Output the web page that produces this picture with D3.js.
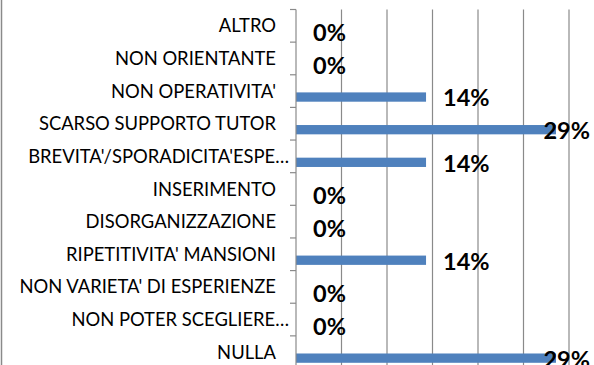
<!DOCTYPE html>
<html>
<head>
<meta charset="utf-8">
<script src="https://cdn.jsdelivr.net/npm/d3@7"></script>
<style>
  html, body { margin: 0; padding: 0; background: #fff; }
  svg { display: block; }
</style>
</head>
<body>
<svg id="chart" width="594" height="365"></svg>
<script>
// Categories, top to bottom, and their shares of responses
const categories = [
  "ALTRO",
  "NON ORIENTANTE",
  "NON OPERATIVITA'",
  "SCARSO SUPPORTO TUTOR",
  "BREVITA'/SPORADICITA'ESPE…",
  "INSERIMENTO",
  "DISORGANIZZAZIONE",
  "RIPETITIVITA' MANSIONI",
  "NON VARIETA' DI ESPERIENZE",
  "NON POTER SCEGLIERE…",
  "NULLA"
];
const values = [0, 0, 0.1429, 0.2857, 0.1429, 0, 0, 0.1429, 0, 0, 0.2857];
const gridTicks = [0, 0.05, 0.10, 0.15, 0.20, 0.25, 0.30];

const W = 594, H = 365;
const plot = { left: 296, right: 569, top: 9.5, bottom: 368.5 };

const svg = d3.select("#chart");

const x = d3.scaleLinear().domain([0, 0.30]).range([plot.left, plot.right]);
const y = d3.scaleBand().domain(categories).range([plot.top, plot.bottom]).padding(0);
const bw = y.bandwidth();

const grey = "#8a8a8a";
const fmt = d3.format(".0%");

// chart area border (left edge)
svg.append("line")
  .attr("x1", 1.5).attr("x2", 1.5).attr("y1", 0).attr("y2", H)
  .attr("stroke", grey).attr("stroke-width", 1.5);

// vertical gridlines
svg.append("g").selectAll("line")
  .data(gridTicks.slice(1))
  .join("line")
  .attr("x1", d => x(d)).attr("x2", d => x(d))
  .attr("y1", plot.top).attr("y2", plot.bottom)
  .attr("stroke", grey).attr("stroke-width", 1.2);

// bars
svg.append("g").selectAll("rect")
  .data(categories.map((c, i) => ({ c, v: values[i] })))
  .join("rect")
  .attr("x", x(0))
  .attr("y", d => y(d.c) + bw * 0.54)
  .attr("width", d => x(d.v) - x(0))
  .attr("height", bw * 0.285)
  .attr("fill", "#4F81BD");

// category axis: line, boundary ticks, labels
const axis = svg.append("g");
axis.append("line")
  .attr("x1", plot.left).attr("x2", plot.left)
  .attr("y1", plot.top).attr("y2", plot.bottom)
  .attr("stroke", grey).attr("stroke-width", 1.2);
axis.selectAll("line.tick")
  .data(categories.map(c => y(c)).concat([plot.bottom]))
  .join("line")
  .attr("class", "tick")
  .attr("x1", plot.left - 6).attr("x2", plot.left)
  .attr("y1", d => d).attr("y2", d => d)
  .attr("stroke", grey).attr("stroke-width", 1.2);
axis.selectAll("text")
  .data(categories)
  .join("text")
  .attr("x", d => d.endsWith("…") ? plot.left - 7 : plot.left - 20)
  .attr("y", d => y(d) + bw / 2 + 6.5)
  .attr("text-anchor", "end")
  .attr("font-family", "Lato, 'Liberation Sans', sans-serif")
  .attr("font-size", 18.4)
  .attr("fill", "#000")
  .text(d => d);

// value labels, kept inside the chart on the right
const labels = svg.append("g").selectAll("text")
  .data(categories.map((c, i) => ({ c, v: values[i] })))
  .join("text")
  .attr("y", d => y(d.c) + bw / 2 + 15.4)
  .attr("font-family", "Lato, 'Liberation Sans', sans-serif")
  .attr("font-weight", "bold")
  .attr("font-size", 23.5)
  .attr("fill", "#000")
  .text(d => fmt(d.v));
labels.attr("x", function (d) {
  const w = this.getComputedTextLength();
  return Math.min(x(d.v) + 17, W - 4 - w);
});
</script>
</body>
</html>
